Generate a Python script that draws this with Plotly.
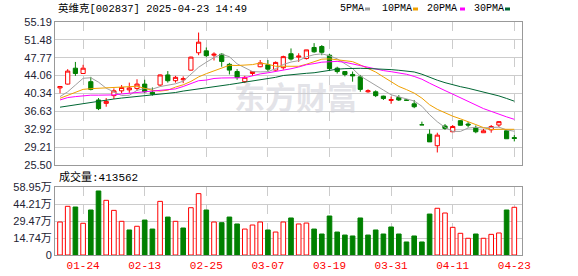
import plotly.graph_objects as go
import pandas as pd

# ---------------- data ----------------
dates = [
    "2025-01-21", "2025-01-22", "2025-01-23", "2025-01-24", "2025-01-27",
    "2025-02-05", "2025-02-06", "2025-02-07", "2025-02-10", "2025-02-11",
    "2025-02-12", "2025-02-13", "2025-02-14", "2025-02-17", "2025-02-18",
    "2025-02-19", "2025-02-20", "2025-02-21", "2025-02-24", "2025-02-25",
    "2025-02-26", "2025-02-27", "2025-02-28", "2025-03-03", "2025-03-04",
    "2025-03-05", "2025-03-06", "2025-03-07", "2025-03-10", "2025-03-11",
    "2025-03-12", "2025-03-13", "2025-03-14", "2025-03-17", "2025-03-18",
    "2025-03-19", "2025-03-20", "2025-03-21", "2025-03-24", "2025-03-25",
    "2025-03-26", "2025-03-27", "2025-03-28", "2025-03-31", "2025-04-01",
    "2025-04-02", "2025-04-03", "2025-04-07", "2025-04-08", "2025-04-09",
    "2025-04-10", "2025-04-11", "2025-04-14", "2025-04-15", "2025-04-16",
    "2025-04-17", "2025-04-18", "2025-04-21", "2025-04-22", "2025-04-23",
]
opens = [41.5, 42.3, 45.6, 44.5, 42.8, 39.0, 38.3, 39.9, 40.9, 41.1,
         41.4, 42.3, 40.6, 42.1, 44.2, 43.0, 43.2, 45.2, 48.8, 49.2,
         48.3, 48.5, 46.4, 44.9, 42.8, 44.5, 45.9, 46.3, 45.2, 45.7,
         48.6, 47.9, 47.6, 49.9, 50.1, 48.3, 45.6, 44.9, 44.3, 43.8,
         40.7, 40.7, 39.8, 38.9, 39.5, 39.0, 38.2, 33.86, 31.9, 29.5,
         33.6, 32.4, 34.7, 34.0, 33.3, 32.2, 32.8, 33.8, 32.6, 31.2]
highs = [41.9, 45.4, 46.9, 46.3, 43.8, 39.4, 39.4, 41.4, 42.1, 42.6,
         43.3, 43.2, 41.6, 44.3, 45.0, 44.0, 43.9, 48.0, 53.0, 49.9,
         48.9, 48.7, 46.7, 45.4, 44.0, 44.9, 47.3, 47.3, 47.0, 48.2,
         49.7, 48.7, 49.4, 50.8, 50.4, 48.6, 45.9, 45.0, 44.9, 44.2,
         41.2, 41.0, 39.9, 39.7, 40.0, 39.2, 39.0, 34.5, 32.9, 32.2,
         34.0, 33.8, 34.8, 34.4, 33.7, 33.0, 33.8, 34.6, 32.7, 31.7]
lows = [40.4, 42.2, 44.0, 44.5, 41.0, 36.9, 37.6, 39.2, 40.4, 40.5,
        40.9, 40.4, 39.9, 41.9, 42.6, 42.6, 42.5, 45.1, 48.3, 47.9,
        47.2, 45.9, 44.3, 43.2, 42.5, 44.0, 45.8, 44.9, 45.1, 45.3,
        47.2, 46.9, 47.4, 48.8, 48.3, 45.0, 44.5, 43.9, 42.8, 40.7,
        40.5, 39.6, 39.0, 38.2, 38.8, 38.9, 37.3, 33.84, 30.3, 28.1,
        32.8, 32.4, 33.7, 33.3, 32.1, 32.2, 32.2, 33.4, 30.95, 30.4]
closes = [41.8, 45.0, 44.5, 45.6, 41.2, 37.2, 38.7, 40.9, 41.6, 41.5,
          42.3, 40.7, 40.2, 44.2, 43.0, 43.7, 43.4, 47.9, 51.0, 48.2,
          48.5, 47.0, 45.2, 43.65, 43.7, 44.9, 46.7, 45.4, 46.8, 48.0,
          47.5, 48.1, 49.4, 49.0, 48.9, 45.5, 44.9, 44.3, 44.0, 41.2,
          40.9, 39.9, 39.3, 39.1, 39.0, 38.95, 37.6, 33.84, 30.3, 31.7,
          33.1, 33.5, 33.75, 33.8, 32.4, 32.6, 33.5, 34.5, 30.95, 31.0]
volumes = [286000, 422000, 416000, 275000, 390000, 555000, 474000, 387000, 292000, 217000,
           249000, 303000, 225000, 465000, 329000, 292000, 234000, 410000, 532000, 390000,
           286000, 280000, 329000, 269000, 225000, 260000, 286000, 217000, 199000, 286000,
           321000, 269000, 277000, 225000, 182000, 338000, 199000, 173000, 165000, 321000,
           173000, 217000, 182000, 243000, 182000, 113000, 165000, 113000, 355000, 405000,
           364000, 240000, 188000, 145000, 182000, 145000, 179000, 191000, 390000, 413562]

# moving-average values before enough closes are visible
ma5_head = [39.7, 40.7, 42.1, 43.5]
ma10_head = [39.35, 40.0, 40.7, 41.2, 41.35, 41.45, 41.45, 41.6, 41.65]
ma20_head = [39.0, 39.5, 39.7, 39.9, 40.0, 40.0, 40.0, 40.05, 40.25, 40.4,
             40.6, 40.65, 40.75, 40.95, 41.1, 41.3, 41.8, 42.4, 43.0]
ma30_head = [37.5, 37.75, 38.0, 38.3, 38.6, 38.8, 39.0, 39.2, 39.4, 39.55,
             39.75, 39.95, 40.15, 40.25, 40.4, 40.55, 40.85, 41.05, 41.3, 41.5,
             41.7, 41.9, 42.2, 42.45, 42.7, 42.95, 43.15, 43.4, 43.7]

x_tick_labels = ["01-24", "02-13", "02-25", "03-07", "03-19", "03-31", "04-11", "04-23"]
price_tick_labels = ["25.50", "29.21", "32.92", "36.63", "40.34", "44.06", "47.77", "51.48", "55.19"]
vol_tick_labels = ["0", "14.74万", "29.47万", "44.21万", "58.95万"]
ma_names = ["5PMA", "10PMA", "20PMA", "30PMA"]

title_text = "英维克[002837] 2025-04-23 14:49"
vol_title = "成交量:413562"
watermark = "东方财富"

# ---------------- styles ----------------
RED = "#ff0000"
GREEN = "#008000"
MA_COLORS = ["#a0a0a0", "#f0a000", "#ff00ff", "#006633"]
W, H = 578, 276
ML, MR, MT, MB = 55, 56, 22, 21
PW, PH = W - ML - MR, H - MT - MB


def px(x):
    return (x - ML) / PW


def py(y):
    return (H - MB - y) / PH


def ma(n, head):
    s = pd.Series(closes).rolling(n).mean().round(3).tolist()
    return head + s[len(head):]


mas = [ma(5, ma5_head), ma(10, ma10_head), ma(20, ma20_head), ma(30, ma30_head)]

vol_up = [(closes[i] >= (closes[i - 1] if i > 0 else opens[i])) for i in range(len(closes))]

fig = go.Figure()

fig.add_trace(go.Candlestick(
    x=dates, open=opens, high=highs, low=lows, close=closes,
    increasing=dict(line=dict(color=RED, width=1), fillcolor="white"),
    decreasing=dict(line=dict(color=GREEN, width=1), fillcolor=GREEN),
    whiskerwidth=0, hoverinfo="skip", showlegend=False,
    xaxis="x", yaxis="y",
))

for vals, col in zip(mas, MA_COLORS):
    fig.add_trace(go.Scatter(
        x=dates, y=vals, mode="lines", line=dict(color=col, width=1),
        hoverinfo="skip", showlegend=False, xaxis="x", yaxis="y",
    ))

fig.add_trace(go.Bar(
    x=dates, y=volumes, width=0.6,
    marker=dict(color=["white" if u else GREEN for u in vol_up],
                line=dict(color=[RED if u else GREEN for u in vol_up], width=1)),
    hoverinfo="skip", showlegend=False, xaxis="x2", yaxis="y2",
))

tickvals_x = [d for d in dates if d[5:] in x_tick_labels]
price_vals = [float(t) for t in price_tick_labels]
vol_vals = [0 if t == "0" else float(t.replace("万", "")) * 10000 for t in vol_tick_labels]

xcommon = dict(
    type="category", range=[-0.65, 60.0], tickvals=tickvals_x, ticktext=x_tick_labels,
    showgrid=True, gridcolor="#cccccc", griddash="dash", gridwidth=1,
    showline=True, mirror=True, linecolor="#999999", linewidth=1,
    ticks="", zeroline=False, fixedrange=True,
)
ycommon = dict(
    showgrid=True, gridcolor="#cccccc", gridwidth=1,
    showline=True, mirror=True, linecolor="#999999", linewidth=1,
    ticks="", zeroline=False, fixedrange=True,
    tickfont=dict(family="Liberation Sans, Noto Sans CJK SC", size=11, color="#222233"),
)

fig.update_layout(
    width=W, height=H,
    margin=dict(l=ML, r=MR, t=MT, b=MB, autoexpand=False),
    paper_bgcolor="white", plot_bgcolor="white",
    showlegend=False, boxgap=0.22, bargap=0,
    xaxis=dict(**xcommon, domain=[0, 1], anchor="y", showticklabels=False,
               rangeslider=dict(visible=False)),
    xaxis2=dict(**xcommon, domain=[0, 1], anchor="y2", matches="x", showticklabels=True,
                tickfont=dict(family="Liberation Mono", size=11, color=RED)),
    yaxis=dict(**ycommon, domain=[py(165), 1], anchor="x",
               range=[price_vals[0], price_vals[-1]],
               tickvals=price_vals, ticktext=price_tick_labels),
    yaxis2=dict(**ycommon, domain=[0, py(187)], anchor="x2",
                range=[vol_vals[0], vol_vals[-1]],
                tickvals=vol_vals, ticktext=vol_tick_labels),
)

ann = []
ann.append(dict(text=title_text, x=px(56), y=py(9), xref="paper", yref="paper",
                xanchor="left", yanchor="middle", showarrow=False,
                font=dict(family="Liberation Mono, Noto Sans CJK SC", size=10.5, color="#000")))
ann.append(dict(text=vol_title, x=px(57), y=py(176.5), xref="paper", yref="paper",
                xanchor="left", yanchor="middle", showarrow=False,
                font=dict(family="Liberation Mono, Noto Sans CJK SC", size=11, color="#000")))
ann.append(dict(text="<b>" + watermark + "</b>", x=px(296), y=py(95), xref="paper", yref="paper",
                xanchor="center", yanchor="middle", showarrow=False,
                font=dict(family="Noto Sans CJK SC", size=31, color="rgba(200,200,210,0.5)")))

legend_text_x = [338, 380, 425, 472]
legend_sw_x = [365, 413, 460, 505]
shapes = []
for name, tx, sx, col in zip(ma_names, legend_text_x, legend_sw_x, MA_COLORS):
    ann.append(dict(text=name, x=px(tx), y=py(9), xref="paper", yref="paper",
                    xanchor="left", yanchor="middle", showarrow=False,
                    font=dict(family="Liberation Mono", size=10, color="#000")))
    shapes.append(dict(type="rect", xref="paper", yref="paper",
                       x0=px(sx), x1=px(sx + 5), y0=py(10.5), y1=py(7.5),
                       fillcolor=col, line=dict(width=0)))

fig.update_layout(annotations=ann, shapes=shapes)

fig.write_html("out.html", config={"displayModeBar": False, "staticPlot": True})
